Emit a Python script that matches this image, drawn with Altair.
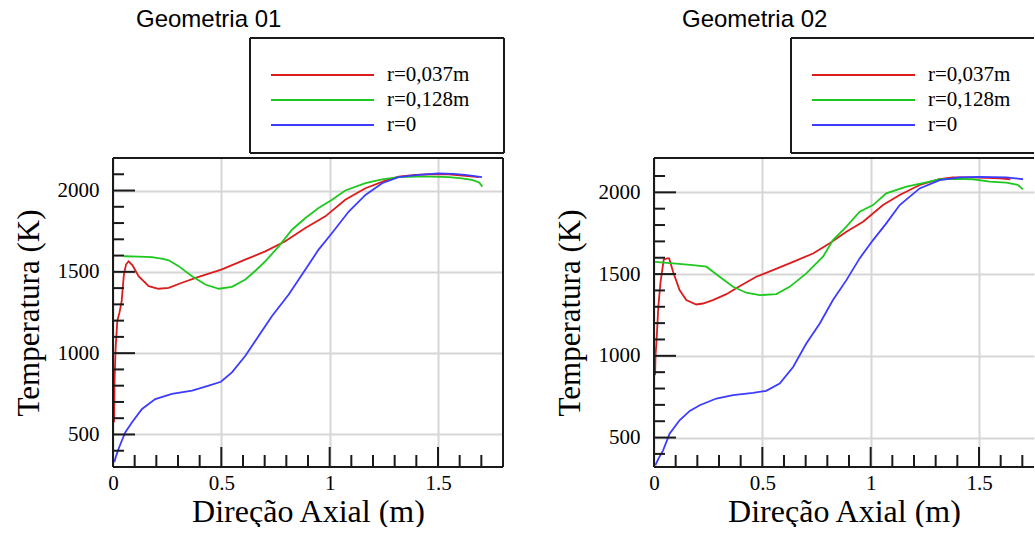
import altair as alt
import pandas as pd

# ---------------- data ----------------
series_names = ["r=0,037m", "r=0,128m", "r=0"]
series_colors = ["#dc1c1c", "#1ec81e", "#3c3cff"]
panel_titles = ["Geometria 01", "Geometria 02"]
x_title = "Direção Axial (m)"
y_title = "Temperatura (K)"

x_axis_labels = [0, 0.5, 1, 1.5]
y_axis_labels = [500, 1000, 1500, 2000]
x_minor_ticks = [0.1, 0.2, 0.3, 0.4, 0.6, 0.7, 0.8, 0.9, 1.1, 1.2, 1.3, 1.4, 1.6, 1.7]
x_major_ticks = [0.5, 1.0, 1.5]
y_minor_ticks = [400, 600, 700, 800, 900, 1100, 1200, 1300, 1400, 1600, 1700, 1800, 1900, 2100]
y_major_ticks = [500, 1000, 1500, 2000]

# Geometria 01
g1_red_x = [0.005, 0.007, 0.012, 0.02, 0.03, 0.04, 0.05, 0.06, 0.072, 0.09, 0.118, 0.165, 0.21, 0.257, 0.318,
            0.395, 0.5, 0.61, 0.703, 0.795, 0.888, 0.98, 1.072, 1.165, 1.257, 1.318, 1.395, 1.472, 1.549, 1.626, 1.69]
g1_red_t = [575, 820, 1030, 1200, 1250, 1320, 1480, 1545, 1565, 1540, 1473, 1412, 1396, 1402, 1433,
            1469, 1514, 1575, 1626, 1688, 1769, 1841, 1943, 2014, 2061, 2086, 2096, 2100, 2100, 2090, 2082]
g1_green_x = [0.05, 0.12, 0.18, 0.23, 0.257, 0.303, 0.365, 0.426, 0.488, 0.549, 0.611, 0.66, 0.703, 0.765, 0.826,
              0.888, 0.949, 1.011, 1.072, 1.165, 1.242, 1.318, 1.4, 1.472, 1.55, 1.6, 1.657, 1.69, 1.705]
g1_green_t = [1596, 1594, 1590, 1580, 1571, 1535, 1473, 1422, 1396, 1408, 1453, 1510, 1565, 1657, 1759,
              1831, 1892, 1943, 2000, 2045, 2069, 2082, 2086, 2086, 2082, 2076, 2065, 2050, 2024]
g1_blue_x = [0.006, 0.015, 0.026, 0.04, 0.057, 0.088, 0.134, 0.195, 0.272, 0.365, 0.442, 0.498, 0.549, 0.611, 0.672,
             0.734, 0.811, 0.888, 0.949, 1.011, 1.088, 1.165, 1.242, 1.318, 1.411, 1.503, 1.57, 1.626, 1.703]
g1_blue_t = [330, 370, 412, 460, 514, 575, 657, 718, 749, 769, 800, 824, 882, 984, 1106,
             1229, 1361, 1514, 1637, 1739, 1871, 1973, 2045, 2082, 2096, 2106, 2102, 2096, 2082]

# Geometria 02
g2_red_x = [0.005, 0.007, 0.012, 0.02, 0.03, 0.045, 0.06, 0.07, 0.088, 0.118, 0.149, 0.195, 0.226, 0.272, 0.334,
            0.395, 0.472, 0.549, 0.642, 0.734, 0.811, 0.888, 0.965, 1.057, 1.134, 1.226, 1.318, 1.38, 1.472, 1.595, 1.645]
g2_red_t = [882, 1000, 1100, 1300, 1450, 1590, 1596, 1596, 1514, 1402, 1341, 1314, 1320, 1341, 1377,
            1426, 1484, 1524, 1575, 1626, 1688, 1759, 1820, 1922, 1984, 2045, 2080, 2092, 2092, 2086, 2080]
g2_green_x = [0.005, 0.088, 0.18, 0.242, 0.303, 0.365, 0.426, 0.488, 0.565, 0.626, 0.703, 0.78, 0.826, 0.888,
              0.949, 1.011, 1.072, 1.165, 1.257, 1.318, 1.4, 1.472, 1.549, 1.626, 1.68, 1.703]
g2_green_t = [1575, 1565, 1555, 1545, 1484, 1422, 1386, 1371, 1378, 1422, 1504, 1606, 1708, 1790,
              1882, 1922, 1994, 2035, 2061, 2080, 2082, 2080, 2065, 2059, 2045, 2018]
g2_blue_x = [0.006, 0.02, 0.042, 0.072, 0.118, 0.165, 0.211, 0.288, 0.365, 0.457, 0.518, 0.58, 0.642, 0.703,
             0.765, 0.826, 0.888, 0.949, 1.011, 1.072, 1.134, 1.226, 1.318, 1.411, 1.5, 1.626, 1.703]
g2_blue_t = [330, 370, 422, 524, 606, 663, 698, 739, 759, 773, 786, 830, 932, 1075,
             1198, 1341, 1463, 1596, 1708, 1810, 1922, 2024, 2075, 2092, 2094, 2092, 2080]

# ---------------- styling ----------------
FRAME = "#1a1a1a"
SERIF = "Liberation Serif"
SANS = "Liberation Sans"
GRID = "#d6d6d6"


def make_panel(curves, title_text, xdom, ydom, w, h, title_dx, box_right):
    xs = alt.Scale(domain=xdom, nice=False, zero=False)
    ys = alt.Scale(domain=ydom, nice=False, zero=False)
    rows = []
    for name, xv, tv in curves:
        for i, (a, b) in enumerate(zip(xv, tv)):
            rows.append({"serie": name, "x": a, "t": b, "i": i})
    df = pd.DataFrame(rows)

    x_axis = alt.Axis(values=x_axis_labels, format="~g", grid=True, gridColor=GRID, gridWidth=2,
                      ticks=False, tickSize=0, domain=False, labelFlush=False, labelOverlap=False,
                      labelFont=SERIF, labelFontSize=21, labelColor="#000", labelPadding=5,
                      titleFont=SERIF, titleFontSize=32, titleFontWeight="normal", titleColor="#000",
                      titlePadding=3)
    y_axis = alt.Axis(values=y_axis_labels, format="d", grid=True, gridColor=GRID, gridWidth=2,
                      ticks=False, tickSize=0, domain=False, labelFlush=False, labelOverlap=False,
                      labelFont=SERIF, labelFontSize=21, labelColor="#000", labelPadding=14,
                      titleFont=SERIF, titleFontSize=31, titleFontWeight="normal", titleColor="#000",
                      titlePadding=12)

    lines = alt.Chart(df).mark_line(strokeWidth=1.8).encode(
        x=alt.X("x:Q", scale=xs, axis=x_axis, title=x_title),
        y=alt.Y("t:Q", scale=ys, axis=y_axis, title=y_title),
        color=alt.Color("serie:N", scale=alt.Scale(domain=series_names, range=series_colors), legend=None),
        order=alt.Order("i:Q"),
    )

    def xticks(vals, length):
        return alt.Chart(pd.DataFrame({"x": vals})).mark_rule(color=FRAME, strokeWidth=2).encode(
            x=alt.X("x:Q", scale=xs, title=x_title), y=alt.value(h), y2=alt.value(h - length))

    def yticks(vals, length):
        return alt.Chart(pd.DataFrame({"t": vals})).mark_rule(color=FRAME, strokeWidth=2).encode(
            y=alt.Y("t:Q", scale=ys, title=y_title), x=alt.value(0), x2=alt.value(length))

    one = pd.DataFrame({"k": [0]})

    def hrule(y, x1, x2, color=FRAME, sw=2):
        return alt.Chart(one).mark_rule(color=color, strokeWidth=sw).encode(
            x=alt.value(x1), x2=alt.value(x2), y=alt.value(y))

    def vrule(x, y1, y2, color=FRAME, sw=2):
        return alt.Chart(one).mark_rule(color=color, strokeWidth=sw).encode(
            x=alt.value(x), y=alt.value(y1), y2=alt.value(y2))

    layers = [lines, xticks(x_minor_ticks, 12), xticks(x_major_ticks, 20),
              yticks(y_minor_ticks, 11), yticks(y_major_ticks, 22)]
    # plot frame
    layers += [hrule(0, 0, w), hrule(h, 0, w), vrule(0, 0, h)]
    if box_right is not None:
        layers.append(vrule(w, 0, h))
    # legend box
    bl, bt, bb = 137, -120, -5
    br = box_right if box_right is not None else w
    layers += [hrule(bt, bl, br), hrule(bb, bl, br), vrule(bl, bt, bb)]
    if box_right is not None:
        layers.append(vrule(box_right, bt, bb))
    for k, (name, col) in enumerate(zip(series_names, series_colors)):
        yy = -83 + 25 * k
        layers.append(hrule(yy, 158, 261, color=col, sw=2))
        layers.append(alt.Chart(one).mark_text(align="left", baseline="middle", font=SERIF, fontSize=21,
                                               color="#000").encode(
            x=alt.value(274), y=alt.value(yy), text=alt.value(name)))
    # panel title
    layers.append(alt.Chart(one).mark_text(align="left", baseline="alphabetic", font=SANS, fontSize=24,
                                           color="#000").encode(
        x=alt.value(title_dx), y=alt.value(-131), text=alt.value(title_text)))
    return alt.layer(*layers).properties(width=w, height=h)


p1 = make_panel([(series_names[0], g1_red_x, g1_red_t),
                 (series_names[1], g1_green_x, g1_green_t),
                 (series_names[2], g1_blue_x, g1_blue_t)],
                panel_titles[0], [0, 1.8], [300, 2200], 390, 309, 23, 391)
p2 = make_panel([(series_names[0], g2_red_x, g2_red_t),
                 (series_names[1], g2_green_x, g2_green_t),
                 (series_names[2], g2_blue_x, g2_blue_t)],
                panel_titles[1], [0, 1.8 * 380 / 390], [320, 2210], 380, 309, 28, None)

chart = alt.hconcat(p1, p2, spacing=49).properties(
    padding={"left": 13, "top": 8, "right": 0, "bottom": 0},
    background="white",
).configure_view(stroke=None)

chart.save("out.html", embed_options={"renderer": "svg", "actions": False})
